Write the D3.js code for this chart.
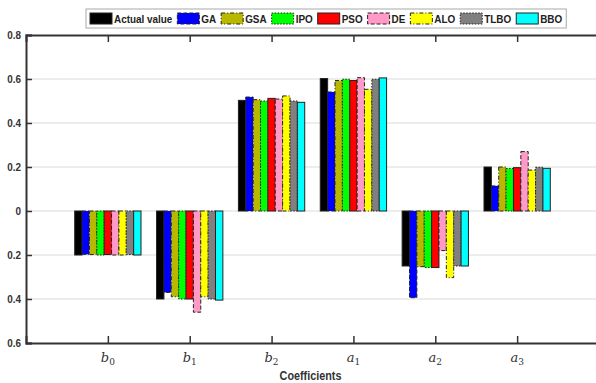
<!DOCTYPE html>
<html>
<head>
<meta charset="utf-8">
<style>
  body { margin: 0; background: #fff; }
  svg text { font-family: 'Liberation Sans Narrow', 'Liberation Sans', Arial, sans-serif; }
</style>
</head>
<body>
<div id="chart"></div>
<script src="https://d3js.org/d3.v7.min.js"></script>
<script>
// categories + series
const categories = ['b0', 'b1', 'b2', 'a1', 'a2', 'a3'];
const series = ['Actual value', 'GA', 'GSA', 'IPO', 'PSO', 'DE', 'ALO', 'TLBO', 'BBO'];
const yTicks = [0.8, 0.6, 0.4, 0.2, 0, -0.2, -0.4, -0.6];

// values per series, in category order
const actual = [-0.200, -0.400, 0.503, 0.602, -0.250, 0.200];
const ga     = [-0.197, -0.370, 0.518, 0.541, -0.394, 0.114];
const gsa    = [-0.198, -0.390, 0.506, 0.593, -0.253, 0.200];
const ipo    = [-0.200, -0.400, 0.500, 0.599, -0.257, 0.193];
const pso    = [-0.198, -0.400, 0.512, 0.593, -0.257, 0.197];
const de     = [-0.200, -0.460, 0.509, 0.606, -0.180, 0.270];
const alo    = [-0.200, -0.390, 0.523, 0.553, -0.303, 0.186];
const tlbo   = [-0.198, -0.400, 0.500, 0.599, -0.250, 0.199];
const bbo    = [-0.200, -0.405, 0.494, 0.605, -0.250, 0.194];

const values = [actual, ga, gsa, ipo, pso, de, alo, tlbo, bbo];
const colors = ['#000000', '#0000ff', '#b8b800', '#00ff00', '#ff0000', '#ff9ac8', '#ffff00', '#808080', '#00ffff'];
// edge style per series (MATLAB-ish line styles)
const dashes = [null, '4,2', '4,2,1,2', '1.5,1.5', null, '4,2', '4,2,1,2', '1.5,1.5', null];

const width = 596, height = 383;
const margin = { top: 35, right: -3, bottom: 40, left: 26 };

const svg = d3.select('#chart').append('svg')
    .attr('width', width)
    .attr('height', height);

const x = d3.scaleLinear().domain([0, 7]).range([margin.left, width - margin.right]);
const y = d3.scaleLinear().domain([-0.6, 0.8]).range([height - margin.bottom, margin.top]);

const groupW = 0.81 * (x(1) - x(0));
const xs = d3.scaleBand().domain(series).range([-groupW / 2, groupW / 2]);

// squeeze text horizontally (no narrow font available)
function narrow(sel, k) {
    sel.each(function () {
        const w = this.getComputedTextLength();
        d3.select(this).attr('textLength', w * k).attr('lengthAdjust', 'spacingAndGlyphs');
    });
}

// grid
svg.append('g').selectAll('line')
    .data(yTicks.slice(1, -1))
    .enter().append('line')
    .attr('x1', x(0)).attr('x2', x(7))
    .attr('y1', d => y(d)).attr('y2', d => y(d))
    .attr('stroke', '#dcdcdc').attr('stroke-width', 1.2);

// bars
const table = [];
categories.forEach((c, i) => {
    series.forEach((s, j) => table.push({ ci: i, si: j, v: values[j][i] }));
});

svg.append('g').selectAll('rect')
    .data(table)
    .enter().append('rect')
    .attr('x', d => x(d.ci + 1) + xs(series[d.si]))
    .attr('width', xs.bandwidth())
    .attr('y', d => y(Math.max(0, d.v)))
    .attr('height', d => Math.abs(y(d.v) - y(0)))
    .attr('fill', d => colors[d.si])
    .attr('stroke', '#222')
    .attr('stroke-width', 1)
    .attr('stroke-dasharray', d => dashes[d.si]);

// axes
const axisCol = '#333';
const yAxis = svg.append('g')
    .attr('transform', `translate(${x(0)},0)`)
    .call(d3.axisLeft(y).tickValues(yTicks).tickSize(-6).tickPadding(5)
        .tickFormat(d => d === 0 ? '0' : d3.format('.1f')(Math.abs(d))));
yAxis.select('.domain').attr('stroke', axisCol).attr('stroke-width', 2);
yAxis.selectAll('.tick line').attr('stroke', axisCol).attr('stroke-width', 1.5);
yAxis.selectAll('.tick text')
    .attr('fill', '#333').style('font-size', '11px').style('font-weight', 'bold')
    .call(narrow, 0.9);

const xBottom = svg.append('g')
    .attr('transform', `translate(0,${y(-0.6)})`)
    .call(d3.axisBottom(x).tickValues(d3.range(1, 7)).tickSize(-7).tickFormat(''));
const xTop = svg.append('g')
    .attr('transform', `translate(0,${y(0.8)})`)
    .call(d3.axisTop(x).tickValues(d3.range(1, 7)).tickSize(-7).tickFormat(''));
[xBottom, xTop].forEach(g => {
    g.select('.domain').attr('stroke', axisCol).attr('stroke-width', 2);
    g.selectAll('.tick line').attr('stroke', axisCol).attr('stroke-width', 1.5);
});

// category labels: italic letter + subscript
const catLab = svg.append('g').selectAll('text')
    .data(categories)
    .enter().append('text')
    .attr('x', (d, i) => x(i + 1))
    .attr('y', y(-0.6) + 19)
    .attr('text-anchor', 'middle')
    .attr('fill', '#333')
    .style('font-family', "'DejaVu Serif', 'Liberation Serif', serif")
    .style('font-style', 'italic')
    .style('font-size', '13px');
catLab.append('tspan').text(d => d[0]);
catLab.append('tspan').text(d => d.slice(1))
    .attr('dy', 3).style('font-size', '9px').style('font-style', 'normal');

svg.append('text')
    .attr('x', (x(0) + x(7)) / 2 - 2)
    .attr('y', height - 3)
    .attr('text-anchor', 'middle')
    .attr('fill', '#333')
    .style('font-size', '12px').style('font-weight', 'bold')
    .text('Coefficients')
    .call(narrow, 0.9);

// legend
const leg = svg.append('g');
const legBox = leg.append('rect')
    .attr('y', 9).attr('height', 19)
    .attr('fill', '#fff').attr('stroke', '#aaa').attr('stroke-width', 1);
let lx = 90;
series.forEach((s, j) => {
    leg.append('rect')
        .attr('x', lx).attr('y', 13).attr('width', 22).attr('height', 11)
        .attr('fill', colors[j])
        .attr('stroke', '#222').attr('stroke-width', 1)
        .attr('stroke-dasharray', dashes[j]);
    lx += 24;
    const t = leg.append('text')
        .attr('x', lx).attr('y', 23)
        .attr('fill', '#222')
        .style('font-size', '11px').style('font-weight', 'bold')
        .text(s);
    const w = t.node().getComputedTextLength() * 0.9;
    t.attr('textLength', w).attr('lengthAdjust', 'spacingAndGlyphs');
    lx += w + 5;
});
legBox.attr('x', 86).attr('width', lx - 87);
</script>
</body>
</html>
